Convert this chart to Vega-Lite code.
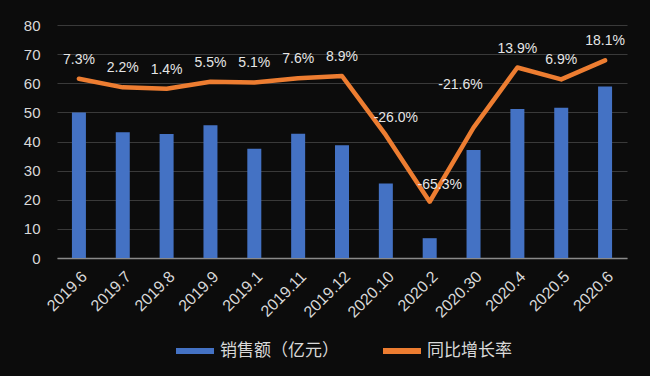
{
  "$schema": "https://vega.github.io/schema/vega-lite/v6.json",
  "width": 570,
  "height": 233,
  "autosize": "none",
  "padding": {"left": 57, "top": 25, "right": 23, "bottom": 118},
  "background": "#0c0c0c",
  "config": {"view": {"stroke": null}, "font": "Liberation Sans"},
  "data": {"values": [
    {"month": "2019.6", "sales": 50.0, "growth": 7.3, "label": "7.3%"},
    {"month": "2019.7", "sales": 43.2, "growth": 2.2, "label": "2.2%"},
    {"month": "2019.8", "sales": 42.6, "growth": 1.4, "label": "1.4%"},
    {"month": "2019.9", "sales": 45.6, "growth": 5.5, "label": "5.5%"},
    {"month": "2019.1", "sales": 37.5, "growth": 5.1, "label": "5.1%"},
    {"month": "2019.11", "sales": 42.7, "growth": 7.6, "label": "7.6%"},
    {"month": "2019.12", "sales": 38.7, "growth": 8.9, "label": "8.9%"},
    {"month": "2020.10", "sales": 25.6, "growth": -26.0, "label": "-26.0%"},
    {"month": "2020.2", "sales": 6.8, "growth": -65.3, "label": "-65.3%"},
    {"month": "2020.30", "sales": 37.1, "growth": -21.6, "label": "-21.6%"},
    {"month": "2020.4", "sales": 51.2, "growth": 13.9, "label": "13.9%"},
    {"month": "2020.5", "sales": 51.6, "growth": 6.9, "label": "6.9%"},
    {"month": "2020.6", "sales": 58.9, "growth": 18.1, "label": "18.1%"}
  ]},
  "encoding": {
    "x": {
      "field": "month", "type": "nominal", "sort": null,
      "scale": {"paddingInner": 0, "paddingOuter": 0},
      "axis": {
        "title": null, "labelAngle": -45, "labelFontSize": 16, "labelColor": "#d9d9d9",
        "labelPadding": 10, "ticks": false, "domainColor": "#8a8a8a", "domainWidth": 1.5, "grid": false
      }
    }
  },
  "layer": [
    {
      "mark": {"type": "bar", "size": 14},
      "encoding": {
        "y": {
          "field": "sales", "type": "quantitative",
          "scale": {"domain": [0, 80]},
          "axis": {
            "title": null, "tickCount": 8, "labelFontSize": 15, "labelColor": "#d9d9d9",
            "labelPadding": 17, "ticks": false, "domain": false,
            "gridColor": "#3a3a3a", "gridWidth": 1
          }
        },
        "color": {
          "datum": "销售额（亿元）", "type": "nominal",
          "scale": {"domain": ["销售额（亿元）", "同比增长率"], "range": ["#4472c4", "#ed7d31"]},
          "legend": {
            "title": null, "orient": "none", "direction": "horizontal",
            "legendX": 116, "legendY": 304,
            "symbolType": "stroke", "symbolSize": 1444, "symbolStrokeWidth": 6,
            "labelFont": "Noto Sans CJK SC", "labelFontSize": 17, "labelColor": "#d9d9d9",
            "labelOffset": 3, "columnPadding": 32
          }
        }
      }
    },
    {
      "mark": {"type": "line", "strokeWidth": 4.5, "strokeCap": "round", "strokeJoin": "round"},
      "encoding": {
        "y": {"field": "growth", "type": "quantitative", "scale": {"domain": [-98.5, 39]}, "axis": null},
        "color": {"datum": "同比增长率", "type": "nominal"}
      }
    },
    {
      "transform": [{"filter": {"not": {"field": "month", "oneOf": ["2020.10", "2020.2", "2020.30"]}}}],
      "mark": {"type": "text", "fontSize": 14, "color": "#e6e6e6", "dy": -19, "baseline": "middle"},
      "encoding": {
        "y": {"field": "growth", "type": "quantitative", "scale": {"domain": [-98.5, 39]}, "axis": null},
        "text": {"field": "label"}
      }
    },
    {
      "transform": [{"filter": {"field": "month", "oneOf": ["2020.10", "2020.2"]}}],
      "mark": {"type": "text", "fontSize": 14, "color": "#e6e6e6", "dx": 10, "dy": -17, "baseline": "middle"},
      "encoding": {
        "y": {"field": "growth", "type": "quantitative", "scale": {"domain": [-98.5, 39]}, "axis": null},
        "text": {"field": "label"}
      }
    },
    {
      "transform": [{"filter": {"field": "month", "oneOf": ["2020.30"]}}],
      "mark": {"type": "text", "fontSize": 14, "color": "#e6e6e6", "dx": -13, "dy": -43, "baseline": "middle"},
      "encoding": {
        "y": {"field": "growth", "type": "quantitative", "scale": {"domain": [-98.5, 39]}, "axis": null},
        "text": {"field": "label"}
      }
    }
  ],
  "resolve": {"scale": {"y": "independent"}}
}
